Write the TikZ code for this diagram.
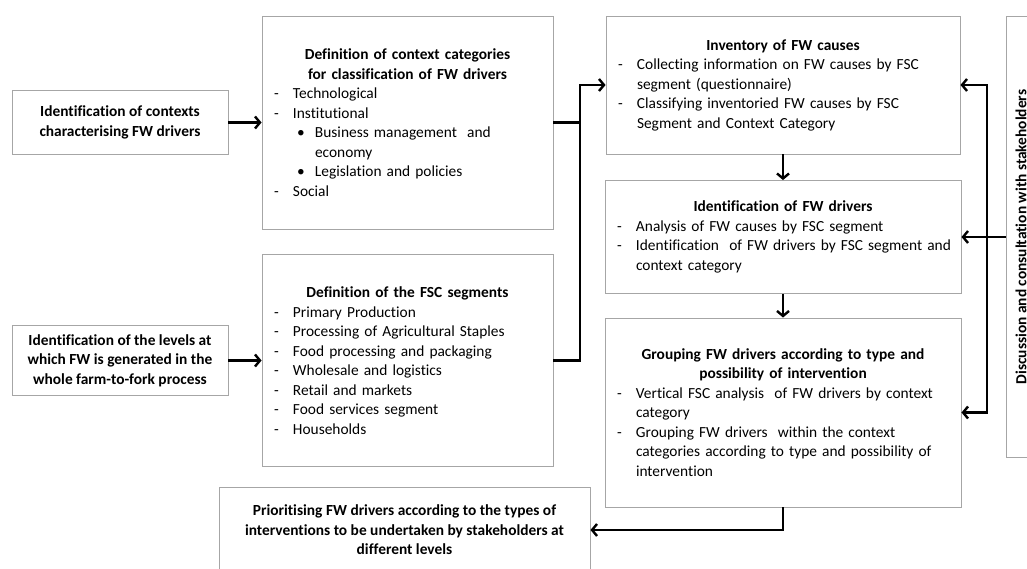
\documentclass[tikz,border=0pt]{standalone}
\usepackage{fontspec}
\setmainfont{Carlito}[Ligatures=NoCommon]
\usepackage{tikz}
\usetikzlibrary{positioning,arrows.meta}
\newcommand{\dashitem}[1]{\par\noindent\hangindent=22pt\hangafter=1\makebox[22pt][l]{\hspace{3pt}-}#1\par}
\newcommand{\bulitem}[1]{\par\noindent\hangindent=44pt\hangafter=1\makebox[44pt][l]{\hspace{26pt}\textbullet}#1\par}
\newcommand{\boxtitle}[1]{{\centering\bfseries #1\par}}
\tikzset{
  flowbox/.style={draw=black!35, line width=0.9pt, inner xsep=9pt, inner ysep=3pt,
                  font=\fontsize{15.4}{19.5}\selectfont, align=left},
  headbox/.style={flowbox, align=center, font=\fontsize{15.4}{19.5}\selectfont\bfseries},
  fwd/.style={-{Straight Barb[length=5pt,width=12pt]}, line width=2.4pt},
  both/.style={{Straight Barb[length=5pt,width=12pt]}-{Straight Barb[length=5pt,width=12pt]}, line width=2.4pt},
  plain/.style={line width=2.4pt},
}
\begin{document}
\begin{tikzpicture}[x=1pt,y=1pt]
\useasboundingbox (0,0) rectangle (1027,569);
%Nodes
\node[headbox, minimum width=216pt, minimum height=64pt] (idctx) at (120,446.5)
  {Identification of contexts\\characterising FW drivers};
\node[flowbox, text width=273pt, minimum height=213pt] (defctx) at (407.5,446.5)
  {\boxtitle{Definition of context categories\\for classification of FW drivers}
   \dashitem{Technological}
   \dashitem{Institutional}
   \bulitem{Business management\ \ and\newline economy}
   \bulitem{Legislation and policies}
   \dashitem{Social}};
\node[headbox, minimum width=216pt, minimum height=70pt] (idlev) at (120,208.5)
  {Identification of the levels at\\which FW is generated in the\\whole farm-to-fork process};
\node[flowbox, text width=273pt, minimum height=212pt] (defseg) at (407.5,208.5)
  {\boxtitle{Definition of the FSC segments}
   \dashitem{Primary Production}
   \dashitem{Processing of Agricultural Staples}
   \dashitem{Food processing and packaging}
   \dashitem{Wholesale and logistics}
   \dashitem{Retail and markets}
   \dashitem{Food services segment}
   \dashitem{Households}};
\node[flowbox, text width=336pt, minimum height=138pt] (inv) at (783,484)
  {\boxtitle{Inventory of FW causes}
   \dashitem{Collecting information on FW causes by FSC\newline segment (questionnaire)}
   \dashitem{Classifying inventoried FW causes by FSC\newline Segment and Context Category}};
\node[flowbox, text width=338pt, minimum height=113pt] (iddrv) at (783,332)
  {\boxtitle{Identification of FW drivers}
   \dashitem{Analysis of FW causes by FSC segment}
   \dashitem{\mbox{Identification\ \ of FW drivers by FSC segment and}\newline context category}};
\node[flowbox, text width=338pt, minimum height=189pt] (group) at (783,156.5)
  {\boxtitle{Grouping FW drivers according to type and\\possibility of intervention}
   \dashitem{Vertical FSC analysis\ \ of FW drivers by context\newline category}
   \dashitem{Grouping FW drivers\ \ within the context\newline categories according to type and possibility of\newline intervention}};
\node[headbox, minimum width=371pt, minimum height=86pt] (prio) at (404.5,39)
  {Prioritising FW drivers according to the types of\\interventions to be undertaken by stakeholders at\\different levels};
\node[headbox, rotate=90, minimum width=441pt, minimum height=30pt] (disc) at (1021,332)
  {Discussion and consultation with stakeholders};
\coordinate (merge) at (580,484);
\coordinate (rail) at (987,484);

%Lines
\draw[fwd] (idctx.east) -- (defctx.west);
\draw[fwd] (idlev.east) -- (defseg.west);
\draw[plain] (defctx.east) -- (defctx.east -| merge);
\draw[fwd] (defseg.east) -| (merge) -- (inv.west);
\draw[fwd] (inv.south) -- (iddrv.north);
\draw[fwd] (iddrv.south) -- (group.north);
\draw[fwd] (group.south) |- (prio.east);
\draw[both] (inv.east) -| (rail) |- (group.east);
\draw[fwd] (disc.north) -- (iddrv.east);
\end{tikzpicture}
\end{document}
